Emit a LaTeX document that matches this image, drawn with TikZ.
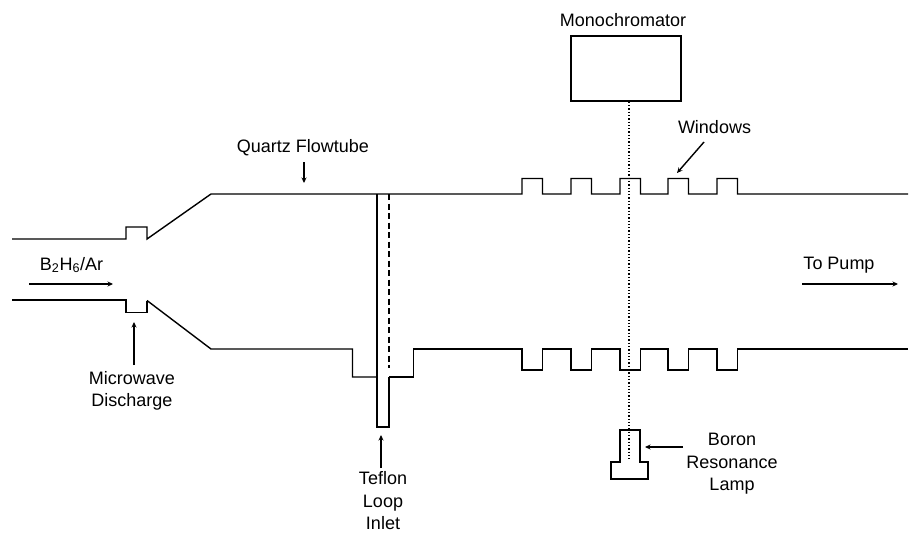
\documentclass[tikz,border=0pt]{standalone}
\usepackage{fontspec}
\setmainfont{Liberation Sans}
\usepackage{tikz}
\usetikzlibrary{arrows.meta}

\begin{document}
\begin{tikzpicture}[x=1pt,y=-1pt,>={Stealth[length=5.5pt,width=5pt]},
    wall/.style={line width=1.4pt,line join=miter},
    pointer/.style={->,line width=1.4pt},
    lbl/.style={font=\fontsize{18}{22.5}\selectfont,align=center,inner sep=0pt}]
  \useasboundingbox (0,0) rectangle (909,533);
  % upper wall of the flowtube
  \draw[wall] (12,239) -- (126,239) -- (126,227) -- (147,227) -- (147,239) -- (211,194)
    foreach \wx in {522,571,620,668,717} { -- (\wx,194) -- (\wx,178.5) -- (\wx+20.5,178.5) -- (\wx+20.5,194) }
    -- (908,194);
  % lower wall, inlet recess and windows
  \draw[wall,line width=1.7pt] (12,300) -- (126,300) -- (126,312.5) -- (147,312.5) -- (147,300.5);
  \draw[wall] (147,300.5) -- (211,349) -- (352.5,349) -- (352.5,377) -- (377,377);
  \draw[wall] (389,377) -- (413.5,377) -- (413.5,349)
    foreach \wx in {522,571,620,668,717} { -- (\wx,349) -- (\wx,370) -- (\wx+20.5,370) -- (\wx+20.5,349) }
    -- (908,349);
  % loop inlet
  \draw[wall] (389,377) -- (389,427) -- (377,427) -- (377,194);
  \draw[wall,dash pattern=on 6pt off 3.5pt] (389,194) -- (389,368);
  % monochromator, light path and lamp
  \node[draw,line width=1.4pt,minimum width=110pt,minimum height=65pt,inner sep=0pt] (mono) at (626,68.5) {};
  \coordinate (lampend) at (629,461);
  \draw[line width=1.3pt,dotted] (mono.south -| lampend) -- (lampend);
  \draw[wall] (620,462) -- (620,430) -- (640,430) -- (640,462) -- (648,462) -- (648,479) -- (611,479) -- (611,462) -- cycle;
  % labels
  \node[lbl] (monolbl) at (623,20) {Monochromator};
  \node[lbl] (quartzlbl) at (303,148) {Quartz Flowtube};
  \node[lbl] (windowslbl) at (714.5,127) {Windows};
  \node[lbl] (gaslbl) at (71.5,265) {B\textsubscript{2}H\textsubscript{6}/Ar};
  \node[lbl] (pumplbl) at (839,265) {To Pump};
  \node[lbl] (mwlbl) at (132,391) {Microwave\\Discharge};
  \node[lbl] (teflonlbl) at (383,501) {Teflon\\Loop\\Inlet};
  \node[lbl] (lamplbl) at (732,464) {Boron\\Resonance\\Lamp};
  % arrows
  \foreach \nm/\fx/\fy/\tx/\ty in {quartz/304/162/304/183, windows/704/142/677/173, gas/29/284/113/284, pump/802/284/898/284, mw/134/365/134/322, teflon/381/468/381/435, lamp/683/447/645/447} {
    \coordinate (\nm from) at (\fx,\fy);
    \coordinate (\nm to) at (\tx,\ty);
    \draw[pointer] (\nm from) -- (\nm to);
  }
\end{tikzpicture}
\end{document}
